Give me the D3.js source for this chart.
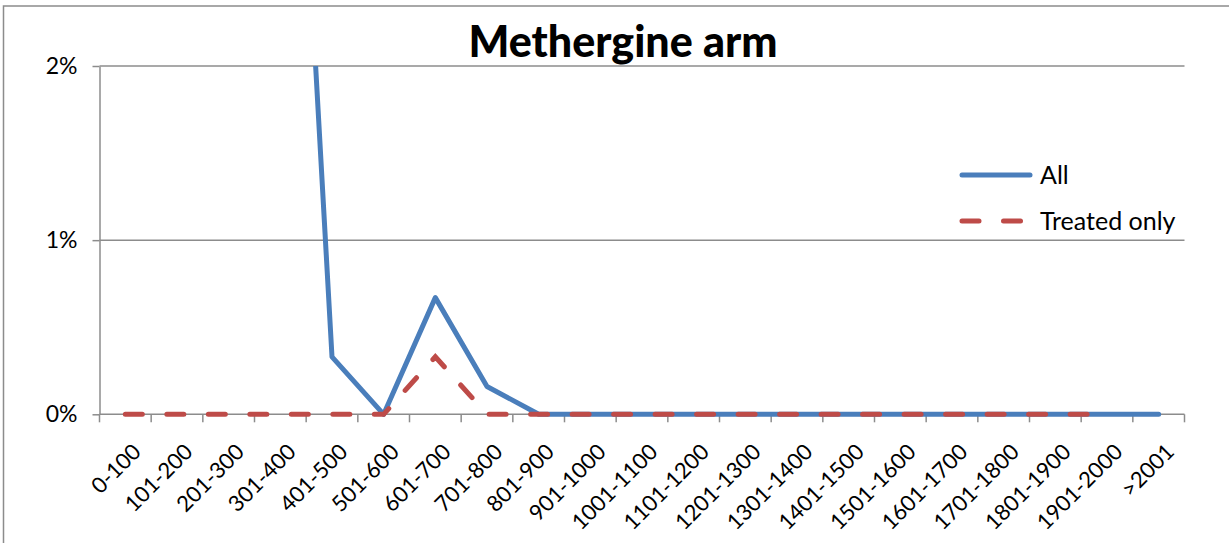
<!DOCTYPE html>
<html>
<head>
<meta charset="utf-8">
<script src="https://cdn.jsdelivr.net/npm/d3@7"></script>
<style>
  body { margin: 0; background: #fff; }
  svg { font-family: Lato, "Open Sans", sans-serif; }
  .axis-label { font-size: 22px; fill: #000; }
  .legend-label { font-size: 25px; fill: #000; }
</style>
</head>
<body>
<svg id="Vis1" width="1229" height="543"></svg>
<script>
// data (percent of patients)
let categories = ["0-100", "101-200", "201-300", "301-400", "401-500", "501-600",
  "601-700", "701-800", "801-900", "901-1000", "1001-1100", "1101-1200",
  "1201-1300", "1301-1400", "1401-1500", "1501-1600", "1601-1700",
  "1701-1800", "1801-1900", "1901-2000", ">2001"];

// first values run off the top of the chart, so they are only estimates
let allValues = [21.2, 43.0, 29.0, 5.6, 0.33, 0, 0.67, 0.16, 0,
  0, 0, 0, 0, 0, 0, 0, 0, 0, 0, 0, 0];

let treatedValues = [0, 0, 0, 0, 0, 0, 0.33, 0, 0,
  0, 0, 0, 0, 0, 0, 0, 0, 0, 0, 0, null];

let yTicks = [0, 1, 2];

let seriesNames = ["All", "Treated only"];

/*
* Draw the Line Chart
*/
let drawLineChart = function() {

  let svg = d3.select("body").select("svg#Vis1");

  const width = 1229;
  const height = 543;

  const margin = {
    top: 66,
    bottom: 128.7,
    left: 99.5,
    right: 44.5
  };

  let plotWidth = width - margin.left - margin.right;
  let plotHeight = height - margin.top - margin.bottom;

  // outer chart border (runs past the right and bottom edges)
  svg.append("rect")
    .attr("x", 3.5)
    .attr("y", 6)
    .attr("width", 1300)
    .attr("height", 600)
    .attr("fill", "none")
    .attr("stroke", "#8c8c8c")
    .attr("stroke-width", 1.5);

  let countScale = d3.scaleLinear()
    .domain([0, 2])
    .range([plotHeight, 0]);

  let catScale = d3.scaleBand()
    .domain(categories)
    .range([0, plotWidth])
    .padding(0);

  const plot = svg.append("g").attr("id", "plot");
  plot.attr("transform", translate(margin.left, margin.top));

  // gridlines
  plot.append("g").attr("id", "grid")
    .selectAll("line")
    .data(yTicks.filter(d => d > 0))
    .enter().append("line")
    .attr("x1", 0)
    .attr("x2", plotWidth)
    .attr("y1", d => countScale(d))
    .attr("y2", d => countScale(d))
    .attr("stroke", "#8c8c8c")
    .attr("stroke-width", 1.5);

  let yAxis = d3.axisLeft(countScale)
    .tickValues(yTicks)
    .tickFormat(d => d + "%")
    .tickSize(7)
    .tickSizeOuter(0)
    .tickPadding(15);

  let yGroup = plot.append("g").attr("id", "y-axis");
  yGroup.call(yAxis);
  yGroup.selectAll("path, line").attr("stroke", "#8c8c8c").attr("stroke-width", 1.5);
  yGroup.selectAll("text")
    .attr("font-size", 23)
    .attr("font-family", "Lato, sans-serif")
    .attr("fill", "#000");

  // x axis: line plus ticks at category boundaries
  let xGroup = plot.append("g").attr("id", "x-axis")
    .attr("transform", translate(0, plotHeight));

  xGroup.append("line")
    .attr("x1", 0)
    .attr("x2", plotWidth)
    .attr("stroke", "#8c8c8c")
    .attr("stroke-width", 1.5);

  let boundaries = categories.map(c => catScale(c)).concat([plotWidth]);
  xGroup.selectAll("line.tick")
    .data(boundaries)
    .enter().append("line")
    .attr("class", "tick")
    .attr("x1", d => d)
    .attr("x2", d => d)
    .attr("y1", 0)
    .attr("y2", 8)
    .attr("stroke", "#8c8c8c")
    .attr("stroke-width", 1.5);

  xGroup.selectAll("text")
    .data(categories)
    .enter().append("text")
    .attr("class", "axis-label")
    .attr("text-anchor", "end")
    .attr("dy", "0.35em")
    .attr("transform", d => translate(catScale(d) + catScale.bandwidth() / 2 + 11.5, 33.5) + " rotate(-45)")
    .text(d => d);

  // clip so the huge first values stop at the top of the plot
  svg.append("clipPath").attr("id", "plot-clip")
    .append("rect")
    .attr("x", -10)
    .attr("y", 0)
    .attr("width", plotWidth + 20)
    .attr("height", plotHeight + 10);

  let line = d3.line()
    .defined(d => d.value !== null)
    .x(d => catScale(d.cat) + catScale.bandwidth() / 2)
    .y(d => countScale(d.value));

  let lines = plot.append("g").attr("clip-path", "url(#plot-clip)");

  lines.append("path")
    .datum(categories.map((c, i) => ({cat: c, value: allValues[i]})))
    .attr("d", line)
    .attr("fill", "none")
    .attr("stroke", "#4a7ebb")
    .attr("stroke-width", 5)
    .attr("stroke-linejoin", "round")
    .attr("stroke-linecap", "round");

  lines.append("path")
    .datum(categories.map((c, i) => ({cat: c, value: treatedValues[i]})))
    .attr("d", line)
    .attr("fill", "none")
    .attr("stroke", "#be4b48")
    .attr("stroke-width", 5)
    .attr("stroke-dasharray", "17,24.5")
    .attr("stroke-linecap", "round");

  // title
  svg.append("text")
    .attr("x", 623)
    .attr("y", 57)
    .attr("text-anchor", "middle")
    .attr("font-size", 43)
    .attr("font-weight", 900)
    .attr("fill", "#000")
    .text("Methergine arm");

  // legend
  const legend = svg.append("g").attr("id", "legend");
  let legendStyles = [
    {color: "#4a7ebb", dash: null},
    {color: "#be4b48", dash: "17,24.5"}
  ];

  seriesNames.forEach(function(name, i) {
    let yPos = 175 + i * 46;
    let item = legend.append("g").attr("transform", translate(0, yPos));
    let l = item.append("line")
      .attr("x1", 962)
      .attr("x2", 1030)
      .attr("stroke", legendStyles[i].color)
      .attr("stroke-width", 5)
      .attr("stroke-linecap", "round");
    if (legendStyles[i].dash) {
      l.attr("stroke-dasharray", legendStyles[i].dash);
    }
    item.append("text")
      .attr("class", "legend-label")
      .attr("x", 1040)
      .attr("dy", "0.35em")
      .text(name);
  });
}

drawLineChart();

/*
 * returns a translate string for the transform attribute
 */
function translate(x, y) {
  return 'translate(' + String(x) + ',' + String(y) + ')';
}
</script>
</body>
</html>
